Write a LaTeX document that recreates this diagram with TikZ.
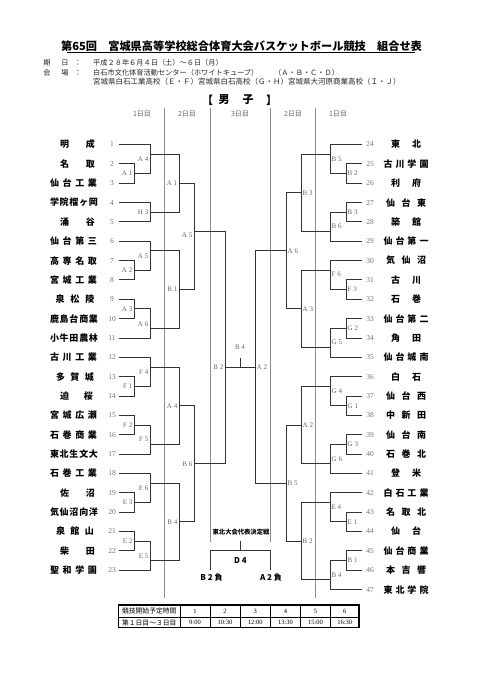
\documentclass[tikz,border=0pt]{standalone}
\usepackage{fontspec}
\setmainfont{Liberation Serif}
\newfontfamily\cjk{Noto Sans CJK JP}
\def\spreadA#1#2{#1\ifx\relax#2\else\hfill\expandafter\spreadA\expandafter#2\fi}
\newcommand\spreadname[2]{\makebox[#1pt][s]{\expandafter\spreadA#2\relax}}
\newcommand\RY[1]{144.5+(#1-1)*19.35}
\begin{document}
\begin{tikzpicture}[x=1pt,y=-1pt,
  br/.style={line width=1pt,draw=black!80,line cap=rect},
  guide/.style={line width=0.6pt,draw=black!45},
  lbl/.style={font=\fontsize{7}{7}\selectfont,text=black!60,inner sep=0pt},
  num/.style={font=\fontsize{7.5}{7.5}\selectfont,text=black!55,inner sep=0pt},
  tm/.style={font=\cjk\bfseries\fontsize{9}{9}\selectfont,inner sep=0pt},
  info/.style={font=\cjk\fontsize{7.2}{7.2}\selectfont,text=black!85,inner sep=0pt},
  day/.style={font=\cjk\fontsize{7}{7}\selectfont,text=black!60,inner sep=0pt},
  cell/.style={font=\fontsize{6.5}{6.5}\selectfont,inner sep=0pt},
  cellj/.style={font=\cjk\fontsize{6.8}{6.8}\selectfont,inner sep=0pt},
  bold/.style={font=\cjk\bfseries\fontsize{8}{8}\selectfont,inner sep=0pt}]
\fill[white] (0,0) rectangle (481,680);
\useasboundingbox (0,0) rectangle (481,680);

% title and header
\node[font=\cjk\bfseries\fontsize{11.2}{11.2}\selectfont,inner sep=0pt] (title) at (241.5,46) {第65回　宮城県高等学校総合体育大会バスケットボール競技　組合せ表};
\draw[line width=0.8pt] (67,52.8) -- (415,52.8);
\node[info] (k1) at (47,63) {期};
\node[info] (k2) at (65,63) {日};
\node[info] (k3) at (78,63) {：};
\node[info,anchor=west] (k4) at (93,63) {平成２８年６月４日（土）～６日（月）};
\node[info] (v1) at (47,72.7) {会};
\node[info] (v2) at (65,72.7) {場};
\node[info] (v3) at (78,72.7) {：};
\node[info,anchor=west] (v4) at (93,72.7) {白石市文化体育活動センター（ホワイトキューブ）};
\node[info,anchor=west] (v5) at (274,72.7) {（Ａ・Ｂ・Ｃ・Ｄ）};
\node[info,anchor=west,font=\cjk\fontsize{7.5}{7.5}\selectfont] (v6) at (93,81.7) {宮城県白石工業高校（Ｅ・Ｆ）宮城県白石高校（Ｇ・Ｈ）宮城県大河原商業高校（Ｉ・Ｊ）};
\node[font=\cjk\bfseries\fontsize{11}{11}\selectfont,inner sep=0pt] (s1) at (207.5,100) {【};
\node[font=\cjk\bfseries\fontsize{11}{11}\selectfont,inner sep=0pt] (s2) at (224,100) {男};
\node[font=\cjk\bfseries\fontsize{11}{11}\selectfont,inner sep=0pt] (s3) at (248,100) {子};
\node[font=\cjk\bfseries\fontsize{11}{11}\selectfont,inner sep=0pt] (s4) at (271.5,100) {】};

% day headers
\node[day] (d1) at (142,114) {1日目};
\node[day] (d2) at (187,114) {2日目};
\node[day] (d3) at (240,114) {3日目};
\node[day] (d4) at (293,114) {2日目};
\node[day] (d5) at (338,114) {1日目};

% guide lines
\draw[guide] (164.5,108) -- (164.5,598);
\draw[guide] (315.5,108) -- (315.5,598);
\draw[guide] (210,108) -- (210,542);
\draw[guide] (270,108) -- (270,542);

% left teams
\foreach \i/\w/\cx/\n in {1/35/77.5/明成,2/35/77.5/名取,3/47/73.5/仙台工業,4/48/74/学院榴ヶ岡,5/35/77.5/涌谷,6/47/73.5/仙台第三,7/47/73.5/高専名取,8/47/73.5/宮城工業,9/39/75/泉松陵,10/48/74/鹿島台商業,11/48/74/小牛田農林,12/47/73.5/古川工業,13/38/75/多賀城,14/33/76.5/迫桜,15/47/73.5/宮城広瀬,16/47/73.5/石巻商業,17/48/74/東北生文大,18/47/73.5/石巻工業,19/35/77.5/佐沼,20/48/74/気仙沼向洋,21/38/75/泉館山,22/35/77.5/柴田,23/47/73.5/聖和学園}{
  \node[tm] (L\i) at (\cx,{\RY{\i}}) {\spreadname{\w}{\n}};
  \node[num] (LN\i) at (112,{\RY{\i}}) {\i};
}
% right teams
\foreach \k/\w/\n in {1/30/東北,2/45/古川学園,3/30/利府,4/40/仙台東,5/30/築館,6/45/仙台第一,7/40/気仙沼,8/30/古川,9/30/石巻,10/45/仙台第二,11/30/角田,12/45/仙台城南,13/30/白石,14/40/仙台西,15/40/中新田,16/40/仙台南,17/40/石巻北,18/30/登米,19/45/白石工業,20/40/名取北,21/30/仙台,22/45/仙台商業,23/40/本吉響,24/45/東北学院}{
  \pgfmathtruncatemacro\tn{\k+23}
  \node[tm] (R\k) at (406,{\RY{\k}}) {\spreadname{\w}{\n}};
  \node[num] (RN\k) at (370,{\RY{\k}}) {\tn};
}

% left team lines
\foreach \i/\xe in {1/150,2/134,3/134,4/150,5/150,6/150,7/134,8/134,9/134,10/134,11/150,12/150,13/134,14/134,15/134,16/134,17/150,18/150,19/134,20/134,21/134,22/134,23/150}
  \draw[br] (119,{\RY{\i}}) -- (\xe,{\RY{\i}});
% right team lines
\foreach \k/\xe in {1/330,2/346,3/346,4/346,5/346,6/330,7/330,8/346,9/346,10/346,11/346,12/330,13/330,14/346,15/346,16/346,17/346,18/330,19/330,20/346,21/346,22/346,23/346,24/330}
  \draw[br] (\xe,{\RY{\k}}) -- (361,{\RY{\k}});

% left brackets
\foreach \x/\a/\b/\o/\xo/\t/\d in {134/2/3/2.5/150/A 1/0,150/1/2.5/1.5/179/A 4/5,150/4/5/4.5/179/H 3/0,134/7/8/7.5/150/A 2/0,150/6/7.5/6.5/179/A 5/5,134/9/10/9.5/150/A 3/0,150/9.5/11/10.5/179/A 6/-4.5,134/13/14/13.5/150/F 1/0,150/12/13.5/12.5/179/F 4/5,134/15/16/15.5/150/F 2/0,150/15.5/17/16.5/179/F 5/-5,134/19/20/19.5/150/E 3/0,150/18/19.5/18.5/179/E 6/5,134/21/22/21.5/150/E 2/0,150/21.5/23/22.5/179/E 5/-4.5,179/1.5/4.5/3/194/A 1/0,179/6.5/10.5/8.5/194/B 1/0,179/12.5/16.5/14.5/194/A 4/0,179/18.5/22.5/20.5/194/B 4/0,194/3/8.5/5.5/225/A 5/4,194/14.5/20.5/17.5/225/B 6/0}{
  \draw[br] (\x,{\RY{\a}}) -- (\x,{\RY{\b}});
  \draw[br] (\x,{\RY{\o}}) -- (\xo,{\RY{\o}});
  \node[lbl,anchor=east] at (\x-1.5,{\RY{\o}+\d}) {\t};
}
% right brackets
\foreach \x/\a/\b/\o/\xo/\t/\d in {346/2/3/2.5/330/B 2/0,330/1/2.5/1.5/301/B 5/5,346/4/5/4.5/330/B 3/0,330/4.5/6/5.5/301/B 6/-5,346/8/9/8.5/330/F 3/0,330/7/8.5/7.5/301/F 6/4,346/10/11/10.5/330/G 2/0,330/10.5/12/11.5/301/G 5/-5,346/14/15/14.5/330/G 1/0,330/13/14.5/13.5/301/G 4/5,346/16/17/16.5/330/G 3/0,330/16.5/18/17.5/301/G 6/-5,346/20/21/20.5/330/E 1/0,330/19/20.5/19.5/301/E 4/5,346/22/23/22.5/330/B 1/0,330/22.5/24/23.5/301/B 4/-5,301/1.5/5.5/3.5/286/B 3/0,301/7.5/11.5/9.5/286/A 3/0,301/13.5/17.5/15.5/286/A 2/0,301/19.5/23.5/21.5/286/B 2/0,286/3.5/9.5/6.5/255/A 6/0,286/15.5/21.5/18.5/255/B 5/0}{
  \draw[br] (\x,{\RY{\a}}) -- (\x,{\RY{\b}});
  \draw[br] (\x,{\RY{\o}}) -- (\xo,{\RY{\o}});
  \node[lbl,anchor=west] at (\x+1.5,{\RY{\o}+\d}) {\t};
}

% final
\coordinate (fl) at (225,{\RY{12.5}});
\coordinate (fr) at (255,{\RY{12.5}});
\coordinate (fm) at (240,{\RY{12.5}});
\coordinate (ft) at (240,{\RY{12.5}-8.5});
\draw[br] (225,{\RY{5.5}}) -- (225,{\RY{17.5}});
\draw[br] (255,{\RY{6.5}}) -- (255,{\RY{18.5}});
\draw[br] (fl) -- (fr);
\draw[br] (fm) -- (ft);
\node[lbl] (fb4) at (240,347) {B 4};
\node[lbl,anchor=east] (fb2) at (223.5,{\RY{12.5}}) {B 2};
\node[lbl,anchor=west] (fa2) at (256.5,{\RY{12.5}}) {A 2};

% Tohoku representative decision match
\node[font=\cjk\bfseries\fontsize{6.3}{6.3}\selectfont,inner sep=0pt] (tohoku) at (241,531.7) {東北大会代表決定戦};
\coordinate (dl) at (210,550.7);
\coordinate (dr) at (270.7,550.7);
\coordinate (dt) at (240,541.7);
\coordinate (dm) at (240,550.7);
\coordinate (dlb) at (210,569);
\coordinate (drb) at (270.7,569);
\draw[br] (dlb) -- (dl) -- (dr) -- (drb);
\draw[br] (dt) -- (dm);
\node[bold] (d4) at (240.5,560.5) {D 4};
\node[bold] (b2l) at (211.5,577.5) {B 2 負};
\node[bold] (a2l) at (271,577.5) {A 2 負};

% table
\draw[line width=0.5pt] (118.5,617.3) -- (359,617.3);
\foreach \xx in {210,240,270.5,300.5,330.5}
  \draw[line width=0.5pt] (\xx,605) -- (\xx,627.5);
\draw[line width=1pt] (180,605) -- (180,627.5);
\draw[line width=1.2pt] (118.5,605) rectangle (359,627.5);
\node[cellj] (th1) at (149.25,611.2) {競技開始予定時間};
\node[cellj] (th2) at (149.25,622.4) {第１日目～３日目};
\foreach \c/\xa/\xb/\tt in {1/180/210/9:00,2/210/240/10:30,3/240/270.5/12:00,4/270.5/300.5/13:30,5/300.5/330.5/15:00,6/330.5/359/16:30}{
  \node[cell] (tc\c) at ({(\xa+\xb)/2},611.2) {\c};
  \node[cell] (tt\c) at ({(\xa+\xb)/2},622.4) {\tt};
}
\end{tikzpicture}
\end{document}
